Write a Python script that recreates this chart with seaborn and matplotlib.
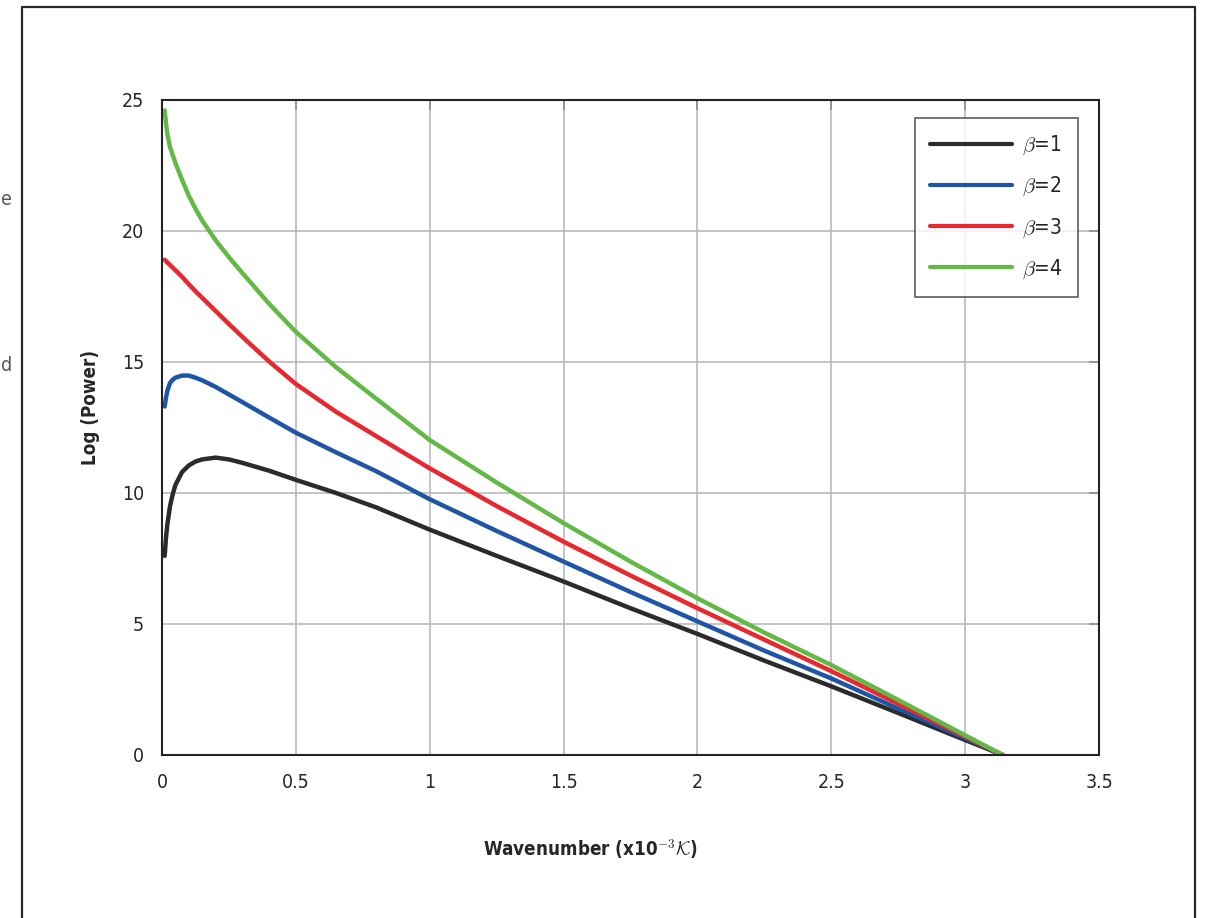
import matplotlib
matplotlib.use("Agg")

import matplotlib.pyplot as plt
import pandas as pd
import seaborn as sns
from matplotlib.lines import Line2D

# ==========================================================
# Data
# ==========================================================

wavenumber = [0.01, 0.015, 0.02, 0.03, 0.04, 0.05, 0.075, 0.1, 0.125, 0.15,
              0.2, 0.25, 0.3, 0.4, 0.5, 0.65, 0.8, 1.0, 1.25, 1.5,
              1.75, 2.0, 2.25, 2.5, 2.75, 3.0, 3.14]

beta_1 = [7.6, 8.3, 8.8, 9.5, 9.95, 10.3, 10.8, 11.05, 11.2, 11.28,
          11.35, 11.28, 11.15, 10.85, 10.5, 10.0, 9.45, 8.6, 7.6, 6.62,
          5.6, 4.62, 3.6, 2.62, 1.6, 0.57, 0.0]

beta_2 = [13.3, 13.65, 13.9, 14.2, 14.32, 14.4, 14.48, 14.48, 14.4, 14.3,
          14.05, 13.76, 13.47, 12.88, 12.3, 11.55, 10.83, 9.76, 8.55, 7.38,
          6.22, 5.1, 3.98, 2.92, 1.77, 0.64, 0.0]

beta_3 = [18.9, 18.85, 18.8, 18.7, 18.6, 18.5, 18.25, 17.97, 17.7, 17.45,
          16.95, 16.45, 15.96, 15.02, 14.16, 13.1, 12.17, 10.94, 9.5, 8.14,
          6.85, 5.6, 4.4, 3.2, 1.95, 0.7, 0.0]

beta_4 = [24.6, 24.1, 23.7, 23.2, 22.9, 22.6, 21.95, 21.35, 20.85, 20.4,
          19.65, 19.0, 18.4, 17.22, 16.15, 14.8, 13.6, 12.02, 10.4, 8.85,
          7.38, 5.98, 4.67, 3.43, 2.1, 0.75, 0.0]

series_labels = [r"$\beta$=1", r"$\beta$=2", r"$\beta$=3", r"$\beta$=4"]
series_colors = ["#2b2b2b", "#1f55a6", "#e8282e", "#62b946"]

x_ticks = [0, 0.5, 1, 1.5, 2, 2.5, 3, 3.5]
x_tick_labels = ["0", "0.5", "1", "1.5", "2", "2.5", "3", "3.5"]
y_ticks = [0, 5, 10, 15, 20, 25]

# ==========================================================
# Build long table
# ==========================================================

frames = []
for label, values in zip(series_labels, [beta_1, beta_2, beta_3, beta_4]):
    frames.append(pd.DataFrame({
        "wavenumber": wavenumber,
        "power": values,
        "beta": label
    }))
df = pd.concat(frames, ignore_index=True)

# ==========================================================
# Plot
# ==========================================================

sns.set_style("white")
plt.rcParams["font.family"] = ["DejaVu Sans"]
plt.rcParams["font.stretch"] = "condensed"
plt.rcParams["mathtext.fontset"] = "cm"

fig = plt.figure(figsize=(12.08, 9.18), dpi=100)
ax = fig.add_axes([0.1341, 0.1776, 0.7757, 0.7135])

sns.lineplot(
    data=df,
    x="wavenumber",
    y="power",
    hue="beta",
    palette=dict(zip(series_labels, series_colors)),
    linewidth=3.2,
    sort=False,
    ax=ax
)

ax.set_xlim(0, 3.5)
ax.set_ylim(0, 25)
ax.set_xticks(x_ticks)
ax.set_xticklabels(x_tick_labels)
ax.set_yticks(y_ticks)

ax.grid(True, color="#b4b4b4", linewidth=1.1)
ax.set_axisbelow(True)

for spine in ax.spines.values():
    spine.set_visible(True)
    spine.set_color("#222222")
    spine.set_linewidth(1.5)

ax.tick_params(axis="both", direction="out", length=7, width=1.3,
               color="#222222", labelsize=14, pad=6)

# inward ticks on top and right, MATLAB style
top = ax.secondary_xaxis("top")
top.set_xticks(x_ticks)
top.set_xticklabels([])
top.tick_params(direction="in", length=7, width=1.3, color="#222222")
top.spines["top"].set_visible(False)
right = ax.secondary_yaxis("right")
right.set_yticks(y_ticks)
right.set_yticklabels([])
right.tick_params(direction="in", length=7, width=1.3, color="#222222")
right.spines["right"].set_visible(False)

ax.set_xlabel(r"Wavenumber (x10$^{\mathsf{-3}}\mathcal{K}$)",
              fontsize=13.5, fontweight="bold")
ax.set_ylabel("Log (Power)", fontsize=13.5, fontweight="bold")
ax.xaxis.set_label_coords(0.457, -0.125)
ax.yaxis.set_label_coords(-0.066, 0.53)

leg = ax.legend(
    loc="upper right",
    bbox_to_anchor=(0.9776, 0.9725),
    borderaxespad=0.0,
    fontsize=15,
    frameon=True,
    fancybox=False,
    handlelength=3.9,
    handletextpad=0.5,
    labelspacing=0.85,
    borderpad=0.75,
    title=None
)
leg.get_frame().set_edgecolor("#333333")
leg.get_frame().set_linewidth(1.2)
for line in leg.get_lines():
    line.set_linewidth(3.0)

# page frame around the figure
frame_kw = dict(color="#2a2a2a", linewidth=1.6, transform=fig.transFigure)
fig.add_artist(Line2D([0.0186, 0.0186], [0.0, 0.9924], **frame_kw))
fig.add_artist(Line2D([0.0186, 0.9893], [0.9924, 0.9924], **frame_kw))
fig.add_artist(Line2D([0.9893, 0.9893], [0.0, 0.9924], **frame_kw))

# letters from the surrounding page text, left of the frame
fig.text(0.001, 0.783, "e", fontsize=14, color="#555555",
         ha="left", va="center")
fig.text(0.001, 0.602, "d", fontsize=14, color="#555555",
         ha="left", va="center")

fig.savefig("out.png", dpi=100)
plt.close(fig)
